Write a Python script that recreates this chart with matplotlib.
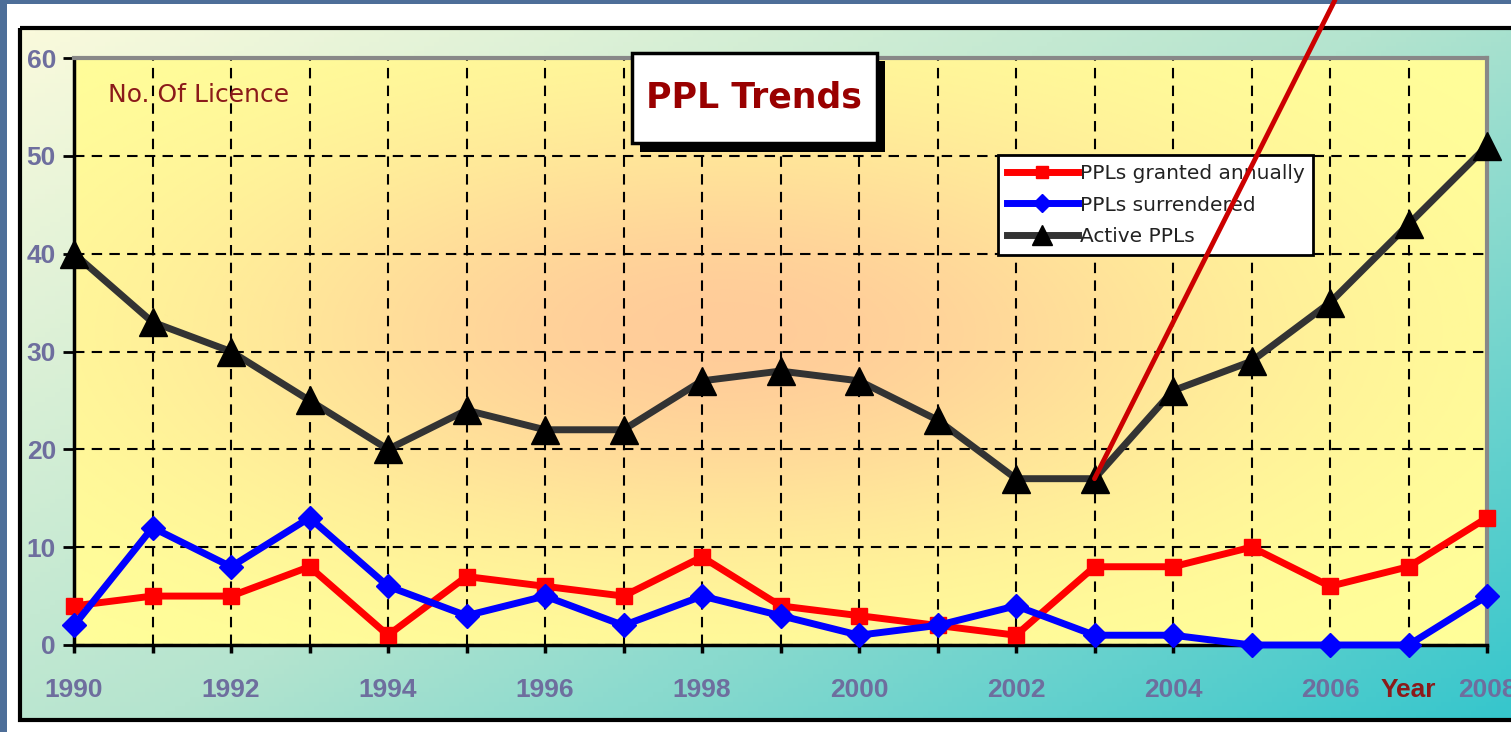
import numpy as np
import matplotlib.pyplot as plt
from matplotlib.patches import Rectangle
from matplotlib.colors import LinearSegmentedColormap, to_rgb

years = list(range(1990, 2009))
granted = [4, 5, 5, 8, 1, 7, 6, 5, 9, 4, 3, 2, 1, 8, 8, 10, 6, 8, 13]
surrendered = [2, 12, 8, 13, 6, 3, 5, 2, 5, 3, 1, 2, 4, 1, 1, 0, 0, 0, 5]
active = [40, 33, 30, 25, 20, 24, 22, 22, 27, 28, 27, 23, 17, 17, 26, 29, 35, 43, 51]
year_labels = ['1990', '', '1992', '', '1994', '', '1996', '', '1998', '', '2000',
               '', '2002', '', '2004', '', '2006', 'Year', '2008']
y_ticks = [0, 10, 20, 30, 40, 50, 60]

W, H = 1511, 732
fig = plt.figure(figsize=(W / 100, H / 100), dpi=100, facecolor='#4d6e98')

# backdrop (pixel coords)
bg = fig.add_axes([0, 0, 1, 1], zorder=-5)
bg.add_patch(Rectangle((7, 4), W, H, facecolor='white', edgecolor='none', zorder=0))
gx, gy = np.meshgrid(np.linspace(0, 1, 300), np.linspace(0, 1, 150))
t = gx * 0.55 + gy * 0.45
panel_cmap = LinearSegmentedColormap.from_list('panel', ['#fafadc', '#b4e4cf', '#36c6cc'])
bg.imshow(t, cmap=panel_cmap, extent=(20, W + 5, 720, 28), aspect='auto', vmin=0, vmax=1, zorder=1)
bg.add_patch(Rectangle((20, 28), W, 692, facecolor='none', edgecolor='black', lw=3, zorder=2))
bg.set_xlim(0, W)
bg.set_ylim(H, 0)
bg.axis('off')

# plot area
ax = fig.add_axes([74 / W, 1 - 645 / H, (1487 - 74) / W, (645 - 58) / H])
xx, yy = np.meshgrid(np.linspace(1990, 2008, 400), np.linspace(0, 60, 200))
g = np.exp(-(((xx - 1998.3) / 6.5) ** 2 + ((yy - 32) / 22) ** 2))[..., None]
img = np.array(to_rgb('#ffff99')) * (1 - g) + np.array(to_rgb('#ffcc99')) * g
ax.imshow(img, extent=(1990, 2008, 0, 60), origin='lower', aspect='auto', zorder=0)

ax.plot(years, granted, color='#ff0000', lw=5, marker='s', ms=12,
        label='PPLs granted annually', clip_on=False, zorder=4)
ax.plot(years, surrendered, color='#0000ff', lw=5, marker='D', ms=12,
        label='PPLs surrendered', clip_on=False, zorder=5)
ax.plot(years, active, color='#333333', lw=5, marker='^', ms=20, mfc='black', mec='black',
        label='Active PPLs', clip_on=False, zorder=6)

ax.set_xlim(1990, 2008)
ax.set_ylim(0, 60)
ax.set_axisbelow(True)
ax.grid(True, color='black', ls=(0, (5, 3.5)), lw=1.5)

ax.set_xticks(years)
ax.set_xticklabels(year_labels)
ax.set_yticks(y_ticks)
ax.tick_params(axis='x', length=6, width=2.5, pad=18, labelsize=19, labelcolor='#6e6e9e')
ax.tick_params(axis='y', length=8, width=2, pad=5, labelsize=19, labelcolor='#6e6e9e')
for lab in ax.get_xticklabels() + ax.get_yticklabels():
    lab.set_family('Liberation Sans')
    lab.set_weight('bold')
ax.get_xticklabels()[17].set_color('#8b1a1a')

for s in ['left', 'bottom']:
    ax.spines[s].set_linewidth(2.5)
    ax.spines[s].set_color('black')
for s in ['top', 'right']:
    ax.spines[s].set_linewidth(3)
    ax.spines[s].set_color('#888888')

leg = ax.legend(loc='upper left', bbox_to_anchor=(998 / W, 1 - 155 / H), bbox_transform=fig.transFigure,
                frameon=True, fancybox=False, edgecolor='black', framealpha=1, borderpad=0.45,
                labelspacing=0.62, handlelength=3.5, handletextpad=0.1, borderaxespad=0,
                prop={'family': 'DejaVu Sans', 'size': 14.5}, markerscale=0.75)
leg.get_frame().set_linewidth(2)
leg.set_zorder(20)
for txt in leg.get_texts():
    txt.set_color('#222222')

# overlay: title box, axis caption, pointer line
top = fig.add_axes([0, 0, 1, 1], zorder=10)
top.set_xlim(0, W)
top.set_ylim(H, 0)
top.axis('off')
top.add_patch(Rectangle((640, 61), 245, 91, facecolor='black', edgecolor='none'))
top.add_patch(Rectangle((632, 53), 245, 90, facecolor='white', edgecolor='black', lw=2.5))
top.text(754, 98, 'PPL Trends', ha='center', va='center', fontsize=25, weight='bold',
         color='#990000', family='DejaVu Sans')
top.text(108, 95, 'No. Of Licence', ha='left', va='center', fontsize=18,
         color='#8b1a1a', family='DejaVu Sans')
top.annotate('', xy=(2003, active[13]), xycoords=ax.transData, xytext=(1335, 0), textcoords='data',
             arrowprops=dict(arrowstyle='-', color='#cc0000', lw=3.5, shrinkA=0, shrinkB=0),
             annotation_clip=False)

fig.savefig('out.png', dpi=100, facecolor=fig.get_facecolor())
